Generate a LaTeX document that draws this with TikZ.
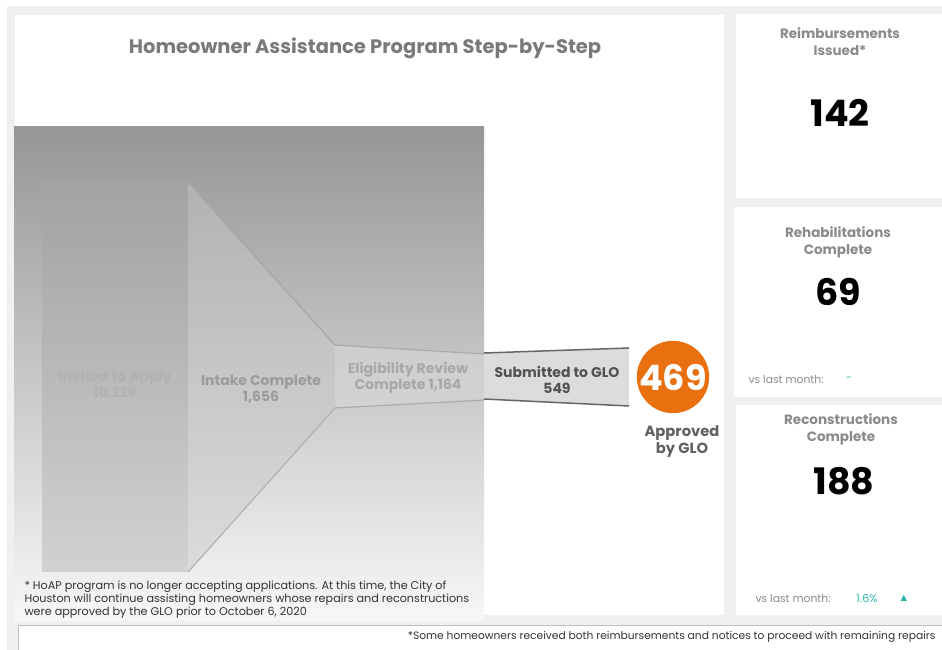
\documentclass[tikz,border=0pt]{standalone}
\usepackage{fontspec}
\setmainfont{Poppins}
\newfontfamily\symfont{DejaVu Sans}
\usetikzlibrary{shapes.geometric}
\definecolor{panelgray}{HTML}{F0F0F0}
\definecolor{titlegray}{HTML}{7A7A7A}
\definecolor{cardgray}{HTML}{8A8A8A}
\definecolor{glo}{HTML}{E8700F}
\definecolor{teal}{HTML}{2BB5A8}
\definecolor{notegray}{HTML}{333333}
\tikzset{
  card/.style={fill=white, draw=none},
  cardtitle/.style={font=\fontsize{13.5}{17}\selectfont\bfseries, text=cardgray, align=center},
  bignum/.style={font=\fontsize{36.5}{38}\selectfont\bfseries, text=black},
  stagetext/.style={font=\fontsize{14}{16.5}\selectfont\bfseries, align=center},
  vstext/.style={font=\fontsize{10.8}{12}\selectfont, text=cardgray, anchor=west},
  notetext/.style={font=\fontsize{11.2}{13.3}\selectfont, text=notegray, align=left, anchor=north west},
}
\begin{document}
\begin{tikzpicture}[x=1pt,y=-1pt]
\useasboundingbox (0,0) rectangle (942,650);
\fill[white] (0,0) rectangle (942,650);
% gray frame
\fill[panelgray] (7,6) rectangle (942,650);
% main panel
\fill[card] (15,15) rectangle (724,615);
% right cards
\fill[card] (736,14) rectangle (942,198);
\fill[card] (734,207) rectangle (942,397);
\fill[card] (736,405) rectangle (942,615);
% footer
\fill[white, draw=black!25, line width=1pt] (18,625) rectangle (945,652);

% gradient backdrop
\shade[top color={rgb,255:red,150;green,150;blue,150}, bottom color={rgb,255:red,247;green,247;blue,247}] (14,127) rectangle (484,620);

% funnel stages
\fill[fill={rgb,255:red,165;green,165;blue,165}, fill opacity=0.38] (42,182) rectangle (188,572);
\fill[fill={rgb,255:red,200;green,200;blue,200}, fill opacity=0.45] (188,182) -- (335,345) -- (335,408) -- (188,572) -- cycle;
\draw[black!35, line width=1.2pt] (42,182) -- (188,182) -- (335,345);
\draw[black!30, line width=1.2pt] (335,408) -- (188,572);
\fill[fill={rgb,255:red,215;green,215;blue,215}, fill opacity=0.6] (335,345) -- (484,354) -- (484,400) -- (335,408) -- cycle;
\draw[black!33, line width=1.2pt] (335,345) -- (484,354);
\draw[black!33, line width=1.2pt] (335,408) -- (484,400);
\fill[fill={rgb,255:red,220;green,220;blue,220}] (484,353) -- (629,348) -- (629,406) -- (484,399) -- cycle;
\draw[black!60, line width=1.5pt] (484,353) -- (629,348);
\draw[black!60, line width=1.5pt] (484,399) -- (629,406);

% texts
\node[font=\fontsize{19.5}{21}\selectfont\bfseries, text=titlegray] (title) at (365,48) {Homeowner Assistance Program Step-by-Step};
\node[stagetext, text={rgb,255:red,178;green,178;blue,178}] (invited) at (115,385) {Invited to Apply\\10,229};
\node[stagetext, text={rgb,255:red,155;green,155;blue,155}] (intake) at (261,389) {Intake Complete\\1,656};
\node[stagetext, text={rgb,255:red,168;green,168;blue,168}] (elig) at (408,378) {Eligibility Review\\Complete 1,164};
\node[stagetext, text=black!68] (submitted) at (557,380) {Submitted to GLO\\549};
\node[circle, fill=glo, minimum size=72pt, inner sep=0pt, text=white, font=\fontsize{35}{37}\selectfont\bfseries] (approved) at (673,377) {469};
\node[stagetext, text=black!62, font=\fontsize{14.7}{17}\selectfont\bfseries] (approvedlbl) at (682,442) {Approved\\by GLO};

\node[notetext] (note) at (21,577) {* HoAP program is no longer accepting applications. At this time, the City of\\Houston will continue assisting homeowners whose repairs and reconstructions\\were approved by the GLO prior to October 6, 2020};

% cards content
\node[cardtitle] (reimbt) at (840,42) {Reimbursements\\Issued*};
\node[bignum] (reimbn) at (840,113) {142};
\node[cardtitle] (rehabt) at (838,242) {Rehabilitations\\Complete};
\node[bignum] (rehabn) at (838,292) {69};
\node[vstext] (rehabvs) at (745,380) {vs last month:};
\node[text=teal, font=\fontsize{10.8}{12}\selectfont] (rehabd) at (849,379) {-};
\node[cardtitle] (recont) at (841,429) {Reconstructions\\Complete};
\node[bignum] (reconn) at (844,481) {188};
\node[vstext] (reconvs) at (752,599) {vs last month:};
\node[text=teal, font=\fontsize{11}{12}\selectfont] (reconp) at (867,599) {1.6\%};
\node[text=teal, font=\fontsize{8.5}{9}\selectfont\symfont] (reconu) at (904,598) {▲};

\node[font=\fontsize{10.7}{12}\selectfont, text=notegray, anchor=east] (footer) at (939,637) {*Some homeowners received both reimbursements and notices to proceed with remaining repairs};
\end{tikzpicture}
\end{document}
